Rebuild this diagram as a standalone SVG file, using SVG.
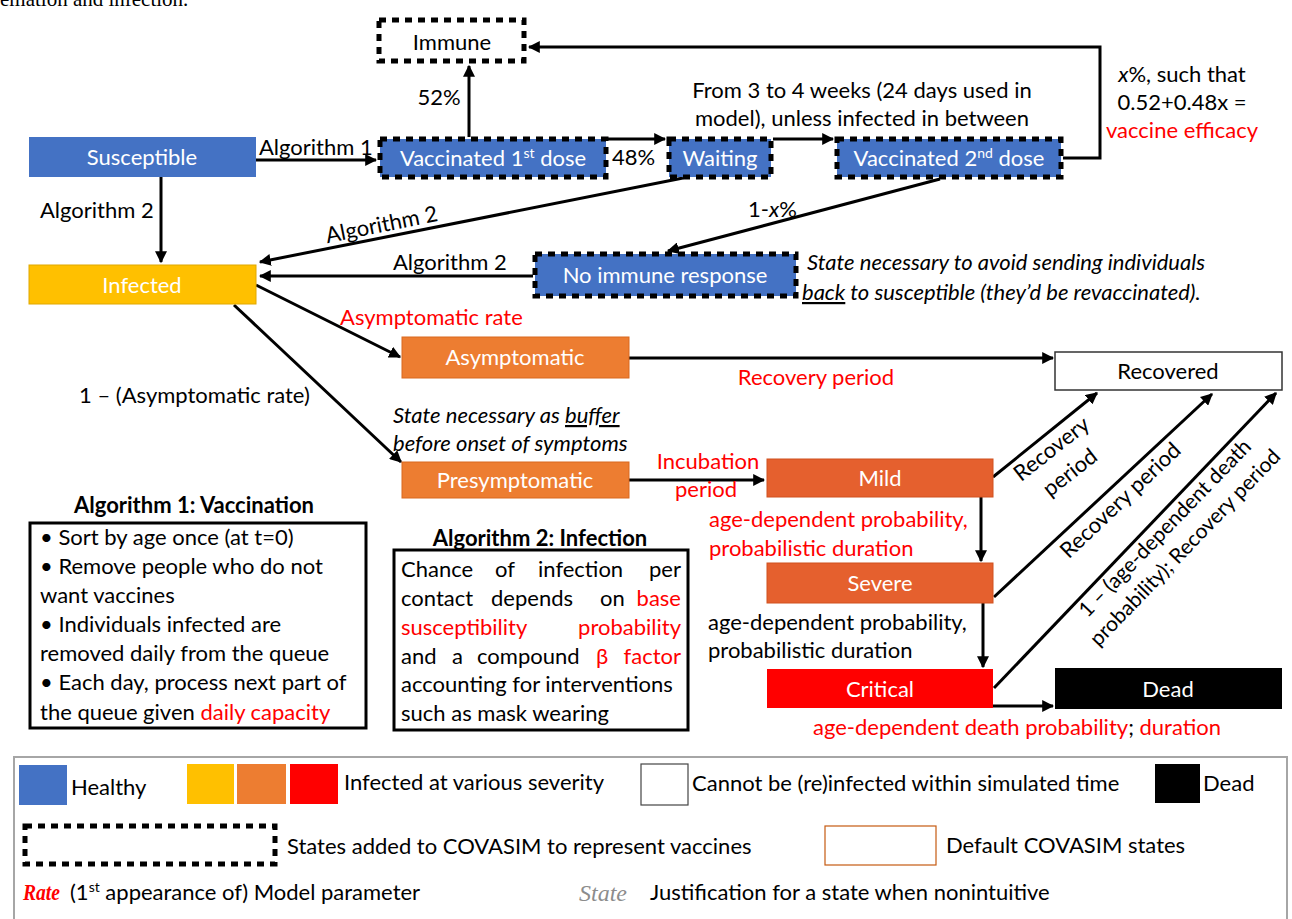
<svg xmlns="http://www.w3.org/2000/svg" width="1292" height="919" viewBox="0 0 1292 919">
<style>
.t{font-family:Lato,"Liberation Sans",sans-serif;font-size:22px;fill:#000}
.w{fill:#fff}
.r{fill:#FF0000}
.c{text-anchor:middle}
.i{font-style:italic}
.b{font-weight:bold}
.s{font-size:21px}
.e{stroke:#000;stroke-width:3;fill:none}
.d{stroke:#000;stroke-width:5;stroke-dasharray:7 6}
.blue{fill:#4472C4}
.u{text-decoration:underline}
</style>
<defs>
<marker id="a" viewBox="0 0 10 10" refX="9" refY="5" markerWidth="4" markerHeight="4" orient="auto"><path d="M0,0 L10,5 L0,10 z" fill="#000"/></marker>
</defs>
<rect width="1292" height="919" fill="#fff"/>
<text x="0" y="6" font-family="Liberation Serif,serif" font-size="21" fill="#000">emation and infection.</text>

<g id="connectors" class="e">
<path d="M256,160 H376" marker-end="url(#a)"/>
<path d="M469,137 V66" marker-end="url(#a)"/>
<path d="M607,139 H665" marker-end="url(#a)"/>
<path d="M773,139 H833" marker-end="url(#a)"/>
<path d="M1063,158 H1100 V47 H529" marker-end="url(#a)"/>
<path d="M161,177 V262" marker-end="url(#a)"/>
<path d="M683,178 L260,262" marker-end="url(#a)"/>
<path d="M940,179 L668,251" marker-end="url(#a)"/>
<path d="M533,276 H260" marker-end="url(#a)"/>
<path d="M256,285 L400,357" marker-end="url(#a)"/>
<path d="M234,305 L401,462" marker-end="url(#a)"/>
<path d="M629,358 H1053" marker-end="url(#a)"/>
<path d="M629,480 H764" marker-end="url(#a)"/>
<path d="M981,497 V561" marker-end="url(#a)"/>
<path d="M983,603 V667" marker-end="url(#a)"/>
<path d="M992,706 H1053" marker-end="url(#a)"/>
<path d="M993,477 L1097,393" marker-end="url(#a)"/>
<path d="M994,597 L1212,394" marker-end="url(#a)"/>
<path d="M994,688 L1276,393" marker-end="url(#a)"/>
</g>

<g id="immune"><rect x="379" y="20" width="145" height="41" fill="#fff" class="d"/><text class="t c" x="452" y="50">Immune</text></g>
<g id="susceptible"><rect x="29" y="137" width="227" height="40" class="blue"/><text class="t c w" x="142" y="165">Susceptible</text></g>
<g id="vacc1"><rect x="380" y="139" width="226" height="38" class="blue d"/><text class="t c w" x="493" y="166">Vaccinated 1<tspan font-size="14" dy="-8">st</tspan><tspan dy="8"> dose</tspan></text></g>
<g id="waiting"><rect x="669" y="139" width="102" height="38" class="blue d"/><text class="t c w" x="720" y="166">Waiting</text></g>
<g id="vacc2"><rect x="837" y="139" width="224" height="38" class="blue d"/><text class="t c w" x="949" y="166">Vaccinated 2<tspan font-size="14" dy="-8">nd</tspan><tspan dy="8"> dose</tspan></text></g>
<g id="noimmune"><rect x="535" y="254" width="261" height="42" class="blue d"/><text class="t c w" x="665" y="283">No immune response</text></g>
<g id="infected"><rect x="29" y="265" width="227" height="39" fill="#FFC000" stroke="#E0A800" stroke-width="1"/><text class="t c w" x="142" y="293">Infected</text></g>
<g id="asymptomatic"><rect x="402" y="337" width="227" height="41" fill="#ED7D31" stroke="#D9691F" stroke-width="1"/><text class="t c w" x="515" y="365">Asymptomatic</text></g>
<g id="presymptomatic"><rect x="402" y="462" width="227" height="36" fill="#ED7D31" stroke="#D9691F" stroke-width="1"/><text class="t c w" x="515" y="488">Presymptomatic</text></g>
<g id="recovered"><rect x="1055" y="352" width="227" height="38" fill="#fff" stroke="#333" stroke-width="1.5"/><text class="t c" x="1168" y="379">Recovered</text></g>
<g id="mild"><rect x="767" y="459" width="226" height="38" fill="#E5602E" stroke="#D0501F" stroke-width="1"/><text class="t c w" x="880" y="486">Mild</text></g>
<g id="severe"><rect x="767" y="563" width="226" height="40" fill="#E5602E" stroke="#D0501F" stroke-width="1"/><text class="t c w" x="880" y="591">Severe</text></g>
<g id="critical"><rect x="767" y="669" width="226" height="39" fill="#FF0000"/><text class="t c w" x="880" y="697">Critical</text></g>
<g id="dead"><rect x="1055" y="668" width="227" height="41" fill="#000"/><text class="t c w" x="1168" y="697">Dead</text></g>

<g id="labels">
<text class="t c" x="439" y="105">52%</text>
<text class="t" x="259" y="155">Algorithm 1</text>
<text class="t" x="612" y="165">48%</text>
<text class="t c" x="862" y="98">From 3 to 4 weeks (24 days used in</text>
<text class="t c" x="862" y="126">model), unless infected in between</text>
<text class="t c" x="1182" y="82"><tspan class="i">x</tspan>%, such that</text>
<text class="t c" x="1182" y="110">0.52+0.48x =</text>
<text class="t c r" x="1182" y="138">vaccine efficacy</text>
<text class="t" x="40" y="218">Algorithm 2</text>
<text class="t c" x="383" y="232" transform="rotate(-11.4 383 232)">Algorithm 2</text>
<text class="t" x="748" y="217">1-<tspan class="i">x</tspan>%</text>
<text class="t" x="393" y="270">Algorithm 2</text>
<text class="t i" x="807" y="270">State necessary to avoid sending individuals</text>
<text class="t i" x="802" y="300"><tspan class="u">back</tspan> to susceptible (they’d be revaccinated).</text>
<text class="t r" x="340" y="325">Asymptomatic rate</text>
<text class="t" x="79" y="403">1 – (Asymptomatic rate)</text>
<text class="t i" x="393" y="423">State necessary as <tspan class="u">buffer</tspan></text>
<text class="t i" x="393" y="451">before onset of symptoms</text>
<text class="t c r" x="816" y="385">Recovery period</text>
<text class="t c r" x="708" y="469">Incubation</text>
<text class="t c r" x="706" y="497">period</text>
<text class="t r" x="709" y="527">age-dependent probability,</text>
<text class="t r" x="709" y="556">probabilistic duration</text>
<text class="t" x="708" y="630">age-dependent probability,</text>
<text class="t" x="708" y="658">probabilistic duration</text>
<text class="t c" x="1017" y="735"><tspan class="r">age-dependent death probability</tspan>; <tspan class="r">duration</tspan></text>
<g transform="translate(1061 461) rotate(-38)"><text class="t c" x="0" y="-8">Recovery</text><text class="t c" x="0" y="22">period</text></g>
<g transform="translate(1120 500) rotate(-43.5)"><text class="t c" x="0" y="8">Recovery period</text></g>
<g transform="translate(1175 538) rotate(-46)"><text class="t c s" x="0" y="-7">1 – (age-dependent death</text><text class="t c s" x="0" y="21">probability); Recovery period</text></g>
</g>

<g id="algorithm1">
<text class="t b c" x="194" y="513">Algorithm 1: Vaccination</text>
<rect x="30" y="523" width="336" height="205" fill="none" stroke="#000" stroke-width="3"/>
<text class="t" x="40" y="545">• Sort by age once (at t=0)</text>
<text class="t" x="40" y="574">• Remove people who do not</text>
<text class="t" x="40" y="603">want vaccines</text>
<text class="t" x="40" y="632">• Individuals infected are</text>
<text class="t" x="40" y="661">removed daily from the queue</text>
<text class="t" x="40" y="690">• Each day, process next part of</text>
<text class="t" x="40" y="720">the queue given <tspan class="r">daily capacity</tspan></text>
</g>

<g id="algorithm2">
<text class="t b c" x="540" y="546">Algorithm 2: Infection</text>
<rect x="394" y="550" width="294" height="180" fill="none" stroke="#000" stroke-width="3"/>
<text class="t" x="401" y="577">Chance</text><text class="t" x="495" y="577">of</text><text class="t" x="538" y="577">infection</text><text class="t" x="681" y="577" text-anchor="end">per</text>
<text class="t" x="401" y="606">contact</text><text class="t" x="491" y="606">depends</text><text class="t" x="600" y="606">on</text><text class="t r" x="681" y="606" text-anchor="end">base</text>
<text class="t r" x="401" y="635">susceptibility</text><text class="t r" x="681" y="635" text-anchor="end">probability</text>
<text class="t" x="401" y="664">and</text><text class="t" x="452" y="664">a</text><text class="t" x="477" y="664">compound</text><text class="t r" x="596" y="664">β</text><text class="t r" x="681" y="664" text-anchor="end">factor</text>
<text class="t" x="401" y="692">accounting for interventions</text>
<text class="t" x="401" y="721">such as mask wearing</text>
</g>

<g id="legend">
<rect x="14" y="757" width="1273" height="175" fill="#fff" stroke="#A6A6A6" stroke-width="2"/>
<rect x="19" y="765" width="48" height="40" fill="#4472C4"/>
<text class="t" x="71" y="795">Healthy</text>
<rect x="187" y="764" width="47" height="40" fill="#FFC000"/>
<rect x="237" y="764" width="49" height="40" fill="#ED7D31"/>
<rect x="290" y="764" width="48" height="40" fill="#FF0000"/>
<text class="t" x="344" y="790">Infected at various severity</text>
<rect x="641" y="764" width="47" height="41" fill="#fff" stroke="#444" stroke-width="1.2"/>
<text class="t" x="692" y="791">Cannot be (re)infected within simulated time</text>
<rect x="1155" y="764" width="45" height="39" fill="#000"/>
<text class="t" x="1203" y="791">Dead</text>
<rect x="25" y="826" width="250" height="38" fill="#fff" class="d"/>
<text class="t" x="287" y="854">States added to COVASIM to represent vaccines</text>
<rect x="825" y="826" width="111" height="39" fill="#fff" stroke="#C55A11" stroke-width="1.2"/>
<text class="t" x="946" y="853">Default COVASIM states</text>
<text x="23" y="900" font-family="Liberation Serif,serif" font-size="24" font-style="italic" font-weight="bold" fill="#FF0000" textLength="37" lengthAdjust="spacingAndGlyphs">Rate</text>
<text class="t" x="70" y="900">(1<tspan font-size="14" dy="-8">st</tspan><tspan dy="8"> appearance of) Model parameter</tspan></text>
<text x="579" y="901" font-family="Liberation Serif,serif" font-size="24" font-style="italic" fill="#8C8C8C">State</text>
<text class="t" x="650" y="900">Justification for a state when nonintuitive</text>
</g>
</svg>
